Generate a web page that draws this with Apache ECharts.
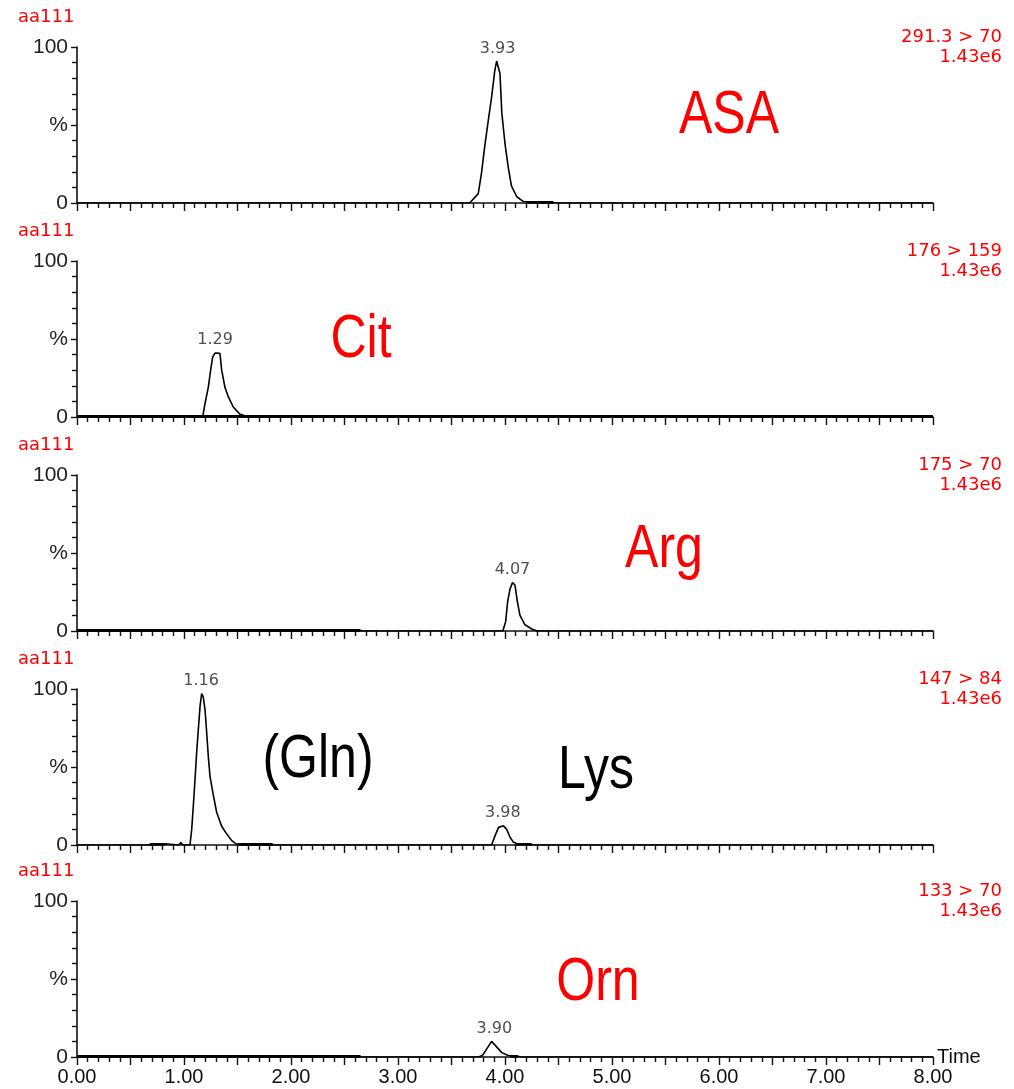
<!DOCTYPE html>
<html>
<head>
<meta charset="utf-8">
<script src="https://cdn.jsdelivr.net/npm/echarts@6/dist/echarts.min.js"></script>
<style>
  html, body { margin: 0; padding: 0; background: #fff; }
  #chart { width: 1014px; height: 1089px; }
</style>
</head>
<body>
<div id="chart"></div>
<script>
// sample / channel text
const sampleName = 'aa111'
const channels = ['291.3 > 70', '176 > 159', '175 > 70', '147 > 84', '133 > 70']
const intensity = '1.43e6'
const yTickLabels = { 0: '0', 50: '%', 100: '100' }

// traces (time in min, intensity in %)
const asaT = [0, 3.67, 3.75, 3.78, 3.81, 3.84, 3.875, 3.905, 3.922, 3.953, 3.97, 4.0, 4.03, 4.06, 4.11, 4.17, 4.3, 4.45, 4.5, 8]
const asaY = [0, 0, 6, 19, 36, 51, 68, 85, 91, 83, 58, 38, 23, 11, 4, 1, 0.5, 0.3, 0, 0]
const citT = [0, 1.175, 1.196, 1.227, 1.249, 1.268, 1.29, 1.305, 1.336, 1.352, 1.383, 1.414, 1.46, 1.52, 1.6, 8]
const citY = [0, 0, 8.5, 19, 30, 38.5, 41, 41.5, 40.8, 30, 19, 13, 6.4, 2, 0, 0]
const argT = [0, 3.98, 4.006, 4.025, 4.047, 4.07, 4.093, 4.115, 4.14, 4.187, 4.25, 4.3, 8]
const argY = [0, 0, 6, 19, 27, 31, 29.5, 19, 10, 4, 1.3, 0, 0]
const glnT = [0, 0.68, 0.69, 0.82, 0.83, 0.95, 0.97, 0.99, 1.056, 1.072, 1.087, 1.103, 1.118, 1.134, 1.15, 1.165, 1.18, 1.196, 1.21, 1.227, 1.243, 1.274, 1.305, 1.352, 1.4, 1.446, 1.49, 1.55, 3.875, 3.907, 3.94, 3.985, 4.016, 4.047, 4.08, 4.125, 4.23, 4.25, 8]
const glnY = [0, 0, 0.8, 0.8, 0, 0, 1.5, 0, 0, 10, 25, 42, 59, 74, 89, 97, 95, 87, 74, 57, 44, 32, 21, 12, 7, 2.8, 0.6, 0, 0, 6, 11.3, 12.4, 10, 5, 1.7, 0.5, 0.3, 0, 0]
const ornT = [0, 3.75, 3.79, 3.875, 3.97, 4.03, 4.11, 4.15, 8]
const ornY = [0, 0, 1, 10, 2.8, 1, 0.6, 0, 0]

// noisy (bold) baseline stretches per panel: [from, to]
const noise = [[[4.2, 4.45]], [[0, 8]], [[0, 2.65]], [[0.68, 0.82], [1.5, 1.83], [4.1, 4.25]], [[0, 2.65], [4.05, 4.12]]]

// labelled peak apex times per panel
const peakTimes = [[3.93], [1.29], [4.07], [1.16, 3.98], [3.90]]

// compound annotations
const compounds = ['ASA', 'Cit', 'Arg', '(Gln)', 'Lys', 'Orn']
const compoundColors = ['#ff0000', '#ff0000', '#ff0000', '#000000', '#000000', '#ff0000']

const traces = [[asaT, asaY], [citT, citY], [argT, argY], [glnT, glnY], [ornT, ornY]]

const gridTops = [47, 261, 475, 689, 901]
const gridH = 156
const axisFont = "'Liberation Sans', Arial, sans-serif"

// highest trace value near time t (used for placing peak labels at apex)
const traceAt = (T, Y, t) => {
  let best = 0
  for (let i = 0; i < T.length; i++) {
    if (Math.abs(T[i] - t) < 0.04 && Y[i] > best) best = Y[i]
  }
  return best
}

const chart = echarts.init(document.getElementById('chart'))

const grid = [], xAxis = [], yAxis = [], series = []
gridTops.forEach((top, i) => {
  const last = i === gridTops.length - 1
  grid.push({ left: 77, right: 81, top: top, height: gridH })
  xAxis.push({
    type: 'value', gridIndex: i, min: 0, max: 8, interval: 0.5,
    name: last ? 'Time' : '', nameLocation: 'end', nameGap: 4,
    nameTextStyle: { color: '#111', fontSize: 20, fontFamily: axisFont, verticalAlign: 'middle', align: 'left' },
    axisLine: { onZero: false, lineStyle: { color: '#111', width: 1.6 } },
    axisTick: { show: true, length: 8, lineStyle: { color: '#111', width: 1.4 } },
    minorTick: { show: true, splitNumber: 5, length: 5, lineStyle: { color: '#111', width: 1.4 } },
    splitLine: { show: false },
    axisLabel: {
      show: last, margin: 10, color: '#111', fontSize: 20, fontFamily: axisFont,
      formatter: v => (Math.abs(v - Math.round(v)) < 1e-6 ? v.toFixed(2) : '')
    }
  })
  yAxis.push({
    type: 'value', gridIndex: i, min: 0, max: 100, interval: 50,
    axisLine: { show: true, onZero: false, lineStyle: { color: '#111', width: 1.6 } },
    axisTick: { show: true, length: 6, lineStyle: { color: '#111', width: 1.4 } },
    minorTick: { show: true, splitNumber: 5, length: 5, lineStyle: { color: '#111', width: 1.4 } },
    splitLine: { show: false },
    axisLabel: {
      margin: 9, color: '#222', fontSize: 21, fontFamily: axisFont,
      formatter: v => yTickLabels[v] ?? ''
    }
  })

  const [T, Y] = traces[i]
  series.push({
    type: 'line', xAxisIndex: i, yAxisIndex: i, showSymbol: false, animation: false,
    lineStyle: { color: '#000', width: 1.6 },
    data: T.map((t, k) => [t, Y[k]])
  })
  noise[i].forEach(seg => {
    series.push({
      type: 'line', xAxisIndex: i, yAxisIndex: i, showSymbol: false, animation: false,
      lineStyle: { color: '#000', width: 2.8 },
      data: [[seg[0], 0.4], [seg[1], 0.4]]
    })
  })
  series.push({
    type: 'scatter', xAxisIndex: i, yAxisIndex: i, animation: false,
    symbolSize: 1, itemStyle: { color: 'rgba(0,0,0,0)' },
    label: {
      show: true, position: 'top', distance: 4, color: '#222', fontSize: 16,
      fontFamily: "'DejaVu Sans', sans-serif",
      formatter: p => p.value[0].toFixed(2)
    },
    data: peakTimes[i].map(t => [t, traceAt(T, Y, t)])
  })
})

// header texts for each panel
const graphic = []
gridTops.forEach((top, i) => {
  graphic.push({
    type: 'text', left: 18, top: top - 39,
    style: { text: sampleName, fill: '#ff0000', font: "18px 'DejaVu Sans', sans-serif" }
  })
  graphic.push({
    type: 'text', right: 12, top: top - 19,
    style: { text: channels[i], fill: '#ff0000', font: "18px 'DejaVu Sans', sans-serif", align: 'right' }
  })
  graphic.push({
    type: 'text', right: 12, top: top + 1,
    style: { text: intensity, fill: '#ff0000', font: "18px 'DejaVu Sans', sans-serif", align: 'right' }
  })
})

// big compound names
const compoundPos = [[729, 116], [361, 340], [664, 550], [318, 760], [596, 771], [598, 983]]
compounds.forEach((name, k) => {
  graphic.push({
    type: 'text', x: compoundPos[k][0], y: compoundPos[k][1], scaleX: 0.82,
    style: {
      text: name, fill: compoundColors[k], font: "61px 'Liberation Sans', Arial, sans-serif",
      align: 'center', verticalAlign: 'middle'
    }
  })
})

chart.setOption({
  animation: false,
  grid, xAxis, yAxis, series, graphic
})
</script>
</body>
</html>
